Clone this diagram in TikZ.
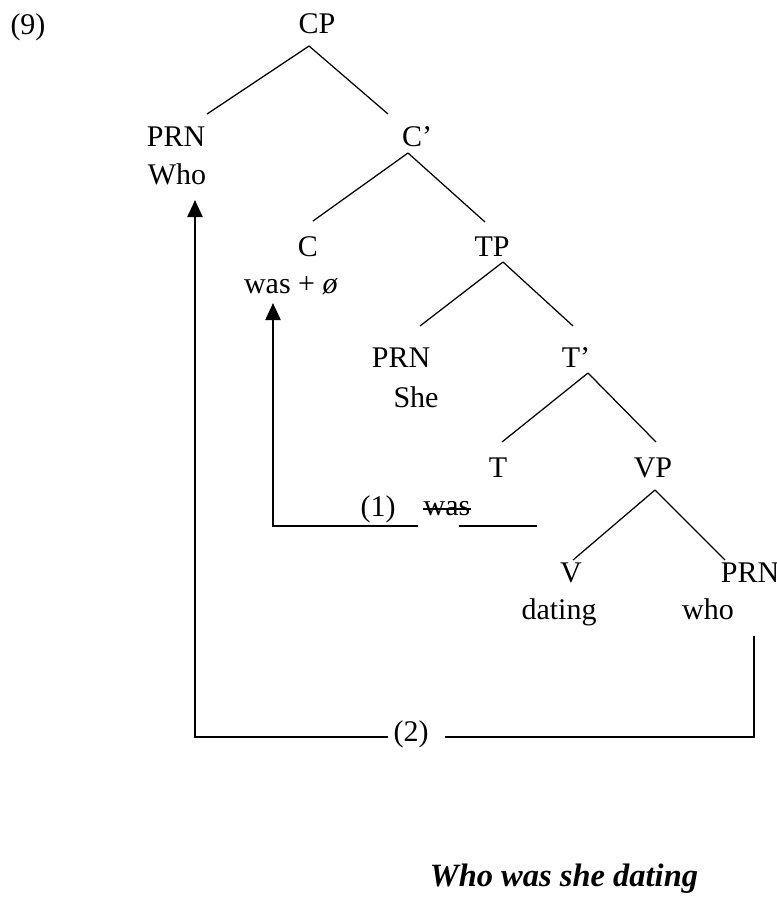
\documentclass[tikz,border=0pt]{standalone}
\usepackage{fontspec}
\setmainfont{Liberation Serif}
\usetikzlibrary{calc,arrows.meta}
\tikzset{
  lbl/.style={inner sep=0pt, text height=8pt, text depth=0pt, font=\fontsize{12}{14}\selectfont},
  branch/.style={line width=0.5pt},
  move/.style={line width=0.9pt},
  moveto/.style={move, -{Triangle[length=6.8pt,width=6pt]}},
}
\begin{document}
\begin{tikzpicture}[x=0.4pt,y=-0.4pt]
    \useasboundingbox (0,0) rectangle (776,899);
    \node[lbl] (num) at (28,25) {(9)};
    \node[lbl] (CP) at (317,24) {CP};
    \node[lbl] (PRNa) at (176,136) {PRN};
    \node[lbl] (Who) at (177,174) {Who};
    \node[lbl] (Cbar) at (417,137) {C’};
    \node[lbl] (C) at (308,246) {C};
    \node[lbl] (wasC) at (291,283) {was + \textit{ø}};
    \node[lbl] (TP) at (492,246) {TP};
    \node[lbl] (PRNb) at (401,357) {PRN};
    \node[lbl] (She) at (416,397) {She};
    \node[lbl] (Tbar) at (576,357) {T’};
    \node[lbl] (T) at (498,467) {T};
    \node[lbl] (VP) at (653,467) {VP};
    \node[lbl] (V) at (571,572) {V};
    \node[lbl] (dating) at (559,609) {dating};
    \node[lbl] (PRNc) at (750,572) {PRN};
    \node[lbl] (who) at (708,609) {who};
    \node[lbl] (mva) at (378,506) {(1)};
    \node[lbl] (wasT) at (447,505) {was};
    \draw[branch] ($(wasT.west)+(0,4)$) -- ($(wasT.east)+(0,4)$);
    \node[lbl] (mvb) at (411,731) {(2)};
    \node[lbl, font=\fontsize{13}{15}\selectfont\bfseries\itshape] (gloss) at (564,876) {Who was she dating};
    % branches
    \draw[branch] ($(CP)+(-8,22)$) -- ($(PRNa)+(31,-22)$);
    \draw[branch] ($(CP)+(-8,22)$) -- ($(Cbar)+(-29,-23)$);
    \draw[branch] ($(Cbar)+(-9,16)$) -- ($(C)+(5,-25)$);
    \draw[branch] ($(Cbar)+(-9,16)$) -- ($(TP)+(-7,-24)$);
    \draw[branch] ($(TP)+(11,16)$) -- ($(PRNb)+(19,-31)$);
    \draw[branch] ($(TP)+(11,16)$) -- ($(Tbar)+(-3,-31)$);
    \draw[branch] ($(Tbar)+(12,16)$) -- ($(T)+(4,-25)$);
    \draw[branch] ($(Tbar)+(12,16)$) -- ($(VP)+(3,-25)$);
    \draw[branch] ($(VP)+(2,23)$) -- ($(V)+(2,-12)$);
    \draw[branch] ($(VP)+(2,23)$) -- ($(PRNc)+(-25,-12)$);
    % movements
    \coordinate (ta) at (537,526);
    \coordinate (gapar) at (459,526);
    \coordinate (gapal) at (418,526);
    \draw[move] (ta) -- (gapar);
    \draw[moveto] (gapal) -| ($(wasC)+(-18,20)$);
    \coordinate (tb) at (754,636);
    \coordinate (gapbr) at (445,737);
    \coordinate (gapbl) at (388,737);
    \draw[move] (tb) |- (gapbr);
    \draw[moveto] (gapbl) -| ($(Who)+(18,26)$);
\end{tikzpicture}
\end{document}
